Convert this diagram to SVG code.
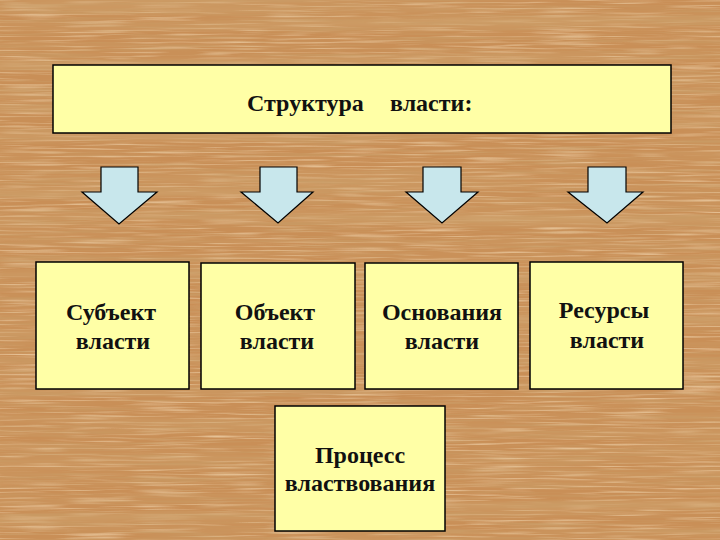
<svg xmlns="http://www.w3.org/2000/svg" width="720" height="540" viewBox="0 0 720 540">
<defs>
<filter id="bands" x="0" y="0" width="720" height="540" filterUnits="userSpaceOnUse">
<feTurbulence type="fractalNoise" baseFrequency="0.0015 0.07" numOctaves="2" seed="11"/>
<feColorMatrix type="matrix" values="0 0 0 0 0.62  0 0 0 0 0.36  0 0 0 0 0.15  1.8 0 0 0 -0.75"/>
</filter>
<filter id="grainDark" x="0" y="0" width="720" height="540" filterUnits="userSpaceOnUse">
<feTurbulence type="fractalNoise" baseFrequency="0.008 0.35" numOctaves="3" seed="7"/>
<feColorMatrix type="matrix" values="0 0 0 0 0.58  0 0 0 0 0.33  0 0 0 0 0.13  2.0 0 0 0 -0.95"/>
</filter>
<filter id="grainLight" x="0" y="0" width="720" height="540" filterUnits="userSpaceOnUse">
<feTurbulence type="fractalNoise" baseFrequency="0.015 0.5" numOctaves="2" seed="3"/>
<feColorMatrix type="matrix" values="0 0 0 0 0.90  0 0 0 0 0.70  0 0 0 0 0.46  0 1.8 0 0 -0.85"/>
</filter>
<style>
.box{fill:#FFFFA6;stroke:#000;stroke-width:1.5}
.arrow{fill:#C8E7EC;stroke:#000;stroke-width:1.2;stroke-linejoin:miter}
.lbl{font-family:"Liberation Serif","Times New Roman",serif;font-weight:bold;font-size:24px;fill:#111;text-anchor:middle}
</style>
</defs>
<rect x="0" y="0" width="720" height="540" fill="#C98F57"/>
<rect x="0" y="0" width="720" height="540" filter="url(#grainLight)"/>
<rect x="0" y="0" width="720" height="540" filter="url(#bands)"/>
<rect x="0" y="0" width="720" height="540" filter="url(#grainDark)"/>

<g id="title">
<rect class="box" x="53" y="65" width="618" height="68"/>
<text class="lbl" style="text-anchor:start" y="111"><tspan x="247">Структура</tspan><tspan x="390">власти:</tspan></text>
</g>

<g id="connectors">
<polygon class="arrow" points="101,167 138,167 138,192 157,192 119,224 82,192 101,192"/>
<polygon class="arrow" points="260,167 297,167 297,192 313,192 278,223 241,192 260,192"/>
<polygon class="arrow" points="423,167 461,167 461,192 478,192 442,223 406,192 423,192"/>
<polygon class="arrow" points="588,167 626,167 626,192 643,192 607,223 568,192 588,192"/>
</g>

<g id="subject">
<rect class="box" x="36" y="262" width="153" height="127"/>
<text class="lbl" x="111" y="320">Субъект</text>
<text class="lbl" x="113" y="349">власти</text>
</g>
<g id="object">
<rect class="box" x="201" y="263" width="154" height="126"/>
<text class="lbl" x="275" y="320">Объект</text>
<text class="lbl" x="277" y="349">власти</text>
</g>
<g id="basis">
<rect class="box" x="365" y="263" width="153" height="126"/>
<text class="lbl" x="442" y="320">Основания</text>
<text class="lbl" x="442" y="349">власти</text>
</g>
<g id="resources">
<rect class="box" x="530" y="262" width="153" height="127"/>
<text class="lbl" x="604" y="318">Ресурсы</text>
<text class="lbl" x="607" y="348">власти</text>
</g>
<g id="process">
<rect class="box" x="275" y="406" width="170" height="125"/>
<text class="lbl" x="360" y="463">Процесс</text>
<text class="lbl" x="360" y="491">властвования</text>
</g>
</svg>
